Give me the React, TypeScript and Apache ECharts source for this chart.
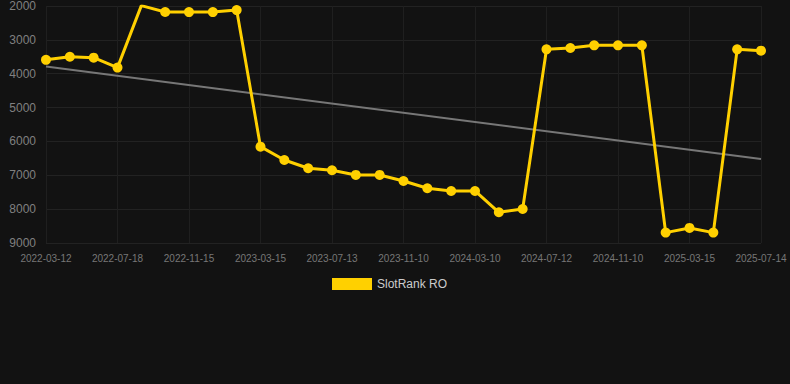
import React, { useEffect, useRef } from "react";
import * as echarts from "echarts";

const categories: string[] = [
  "2022-03-12", "2022-04-23", "2022-06-05", "2022-07-18", "2022-08-27", "2022-10-06",
  "2022-11-15", "2022-12-25", "2023-02-03", "2023-03-15", "2023-04-24", "2023-06-03",
  "2023-07-13", "2023-08-22", "2023-10-01", "2023-11-10", "2023-12-20", "2024-01-30",
  "2024-03-10", "2024-04-20", "2024-06-01", "2024-07-12", "2024-08-21", "2024-09-30",
  "2024-11-10", "2024-12-22", "2025-02-02", "2025-03-15", "2025-04-24", "2025-06-03",
  "2025-07-14",
];

const rankValues: number[] = [
  3590, 3500, 3525, 3820, 1990, 2177, 2180, 2180, 2120,
  6155, 6548, 6793, 6852, 6990, 6990, 7168, 7384, 7463, 7463, 8093, 7995,
  3280, 3240, 3161, 3161, 3161, 8693, 8555, 8693, 3280, 3320,
];

const trendStart = 3790;
const trendEnd = 6520;

const yTicks = { min: 2000, max: 9000, interval: 1000 };

export default function App() {
  const ref = useRef<HTMLDivElement>(null);
  useEffect(() => {
    if (!ref.current) return;
    const chart = echarts.init(ref.current, null, { renderer: "svg" });
    chart.setOption({
      animation: false,
      backgroundColor: "#121212",
      grid: { left: 46, right: 29, top: 6, bottom: 141 },
      legend: {
        top: 273,
        left: 327,
        itemWidth: 40,
        itemHeight: 12,
        data: [{ name: "SlotRank RO", icon: "rect" }],
        textStyle: { color: "#cccccc", fontSize: 12, fontFamily: "Arial, Liberation Sans, sans-serif" },
      },
      xAxis: {
        type: "category",
        boundaryGap: false,
        data: categories,
        axisLine: { show: false },
        axisTick: { show: false },
        axisLabel: { interval: 2, color: "#777777", fontSize: 10, margin: 10, fontFamily: "Arial, Liberation Sans, sans-serif" },
        splitLine: { show: true, interval: 2, lineStyle: { color: "#1f1f1f" } },
      },
      yAxis: {
        type: "value",
        inverse: true,
        min: yTicks.min,
        max: yTicks.max,
        interval: yTicks.interval,
        axisLine: { show: false },
        axisTick: { show: false },
        axisLabel: {
          color: "#808080",
          fontSize: 12,
          margin: 10,
          fontFamily: "Arial, Liberation Sans, sans-serif",
          formatter: (v: number) => String(v),
        },
        splitLine: { lineStyle: { color: "#222222" } },
      },
      series: [
        {
          name: "SlotRank RO",
          type: "line",
          data: rankValues,
          color: "#FFD000",
          symbol: "circle",
          symbolSize: 10,
          lineStyle: { width: 3, color: "#FFD000" },
          itemStyle: { color: "#FFD000" },
          z: 3,
        },
        {
          name: "Trend",
          type: "line",
          data: [[0, trendStart], [categories.length - 1, trendEnd]],
          symbol: "none",
          lineStyle: { width: 2, color: "#777777" },
          z: 2,
        },
      ],
    });
    return () => chart.dispose();
  }, []);
  return (
    <div
      ref={ref}
      style={{ position: "absolute", left: 0, top: 0, width: 790, height: 384 }}
    />
  );
}
